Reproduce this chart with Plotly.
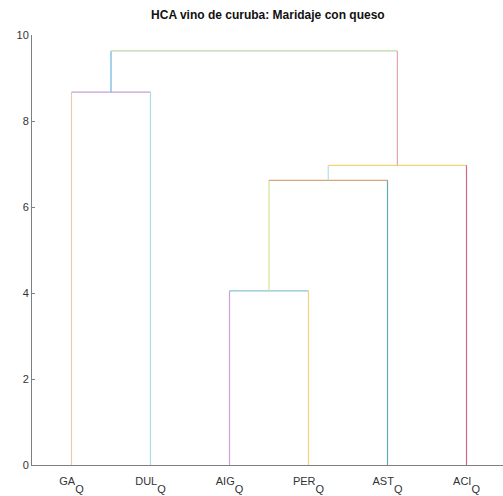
import plotly.graph_objects as go

# Leaf names and their subscript, in dendrogram order
leaf_names = ["GA", "DUL", "AIG", "PER", "AST", "ACI"]
leaf_sub = ["Q", "Q", "Q", "Q", "Q", "Q"]

# Linkage: (left child, right child, height); children < 6 are leaves,
# children >= 6 refer to earlier merges (6 + merge index)
merge_left = [2, 6, 0, 7, 8]
merge_right = [3, 4, 1, 5, 9]
merge_height = [4.05, 6.62, 8.67, 6.97, 9.63]

# Colours for each link: (left leg, horizontal bar, right leg)
link_colors = [
    ("#c9a3d8", "#86c3d3", "#efd27a"),
    ("#d3e393", "#d9a576", "#62a9b2"),
    ("#e9cbab", "#c9a0d2", "#a9dcea"),
    ("#b3ddf0", "#f1d474", "#d26585"),
    ("#6cb2e2", "#bcd9a3", "#e9a3b3"),
]

# Full-size subscript, dropped well below the baseline
leaves = [f"{name}<span style='baseline-shift:-8px'>{s}</span>"
          for name, s in zip(leaf_names, leaf_sub)]

n = len(leaves)
pos = {i: i + 1 for i in range(n)}
hgt = {i: 0.0 for i in range(n)}

fig = go.Figure()
for k, (a, b, h) in enumerate(zip(merge_left, merge_right, merge_height)):
    xa, xb = pos[a], pos[b]
    ca, cm, cb = link_colors[k]
    segs = [
        ([xa, xa], [hgt[a], h], ca),
        ([xa, xb], [h, h], cm),
        ([xb, xb], [hgt[b], h], cb),
    ]
    for xs, ys, c in segs:
        fig.add_trace(go.Scatter(x=xs, y=ys, mode="lines",
                                 line=dict(color=c, width=1.2),
                                 hoverinfo="skip", showlegend=False))
    node = n + k
    pos[node] = (xa + xb) / 2
    hgt[node] = h

fig.update_layout(
    width=503, height=496,
    margin=dict(l=32, r=0, t=35, b=31),
    paper_bgcolor="white", plot_bgcolor="white",
    font=dict(family="Liberation Sans, Arial, sans-serif", size=11, color="#333333"),
    title=dict(text="<b>HCA vino de curuba: Maridaje con queso</b>",
               x=0.5325, xanchor="center", y=0.97, yanchor="middle",
               font=dict(size=12, color="#111111")),
    xaxis=dict(range=[0.5, 6.462], tickmode="array",
               tickvals=list(range(1, n + 1)), ticktext=leaves,
               showgrid=False, zeroline=False, showline=True,
               linecolor="#7f7f7f", linewidth=1, ticks="",
               ticklabelstandoff=6,
               tickfont=dict(size=11, color="#333333")),
    yaxis=dict(range=[0, 10], tickvals=[0, 2, 4, 6, 8, 10],
               showgrid=False, zeroline=False, showline=True,
               linecolor="#7f7f7f", linewidth=1, ticks="inside",
               ticklen=3, tickcolor="#7f7f7f",
               tickfont=dict(size=11, color="#333333")),
)

fig.write_html("out.html")
